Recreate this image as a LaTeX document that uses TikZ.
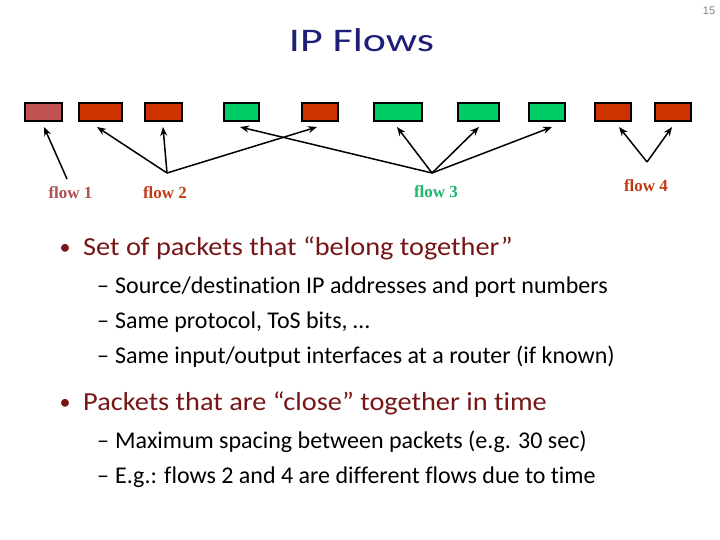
\documentclass[tikz,border=0pt]{standalone}
\usepackage{fontspec}
\setmainfont{Carlito}[Ligatures={NoCommon}]
\newfontfamily\labelfont{Liberation Serif}
\newfontfamily\pagefont{Liberation Sans}
\usetikzlibrary{arrows.meta}
\definecolor{titleblue}{RGB}{30,30,120}
\definecolor{maroon}{RGB}{118,22,22}
\definecolor{pkt1}{RGB}{192,82,82}
\definecolor{pktred}{RGB}{204,51,0}
\definecolor{pktgreen}{RGB}{0,204,102}
\definecolor{lab1}{RGB}{176,80,80}
\definecolor{labred}{RGB}{190,60,20}
\definecolor{labgreen}{RGB}{30,180,110}
\begin{document}
\begin{tikzpicture}[x=1bp,y=-1bp,
  pkt/.style={draw=black,line width=1.6bp,minimum height=17.5bp,inner sep=0pt,anchor=north west},
  arr/.style={draw=black,line width=1.5bp,-{Stealth[length=9bp,width=7bp]}},
  flowlab/.style={inner sep=0pt,anchor=base,font=\labelfont\bfseries\fontsize{17bp}{20bp}\selectfont},
  mainline/.style={inner sep=0pt,anchor=base west,text=maroon,font=\fontsize{26bp}{30bp}\selectfont},
  subline/.style={inner sep=0pt,anchor=base west,text=black,font=\fontsize{24bp}{28bp}\selectfont},
  bulletdot/.style={inner sep=0pt,anchor=base,text=maroon,font=\fontsize{22bp}{30bp}\selectfont},
  subdash/.style={inner sep=0pt,anchor=base,text=black,font=\fontsize{24bp}{28bp}\selectfont}]
\useasboundingbox (0,0) rectangle (720,540);
\node[inner sep=0pt,anchor=base,text=gray,font=\pagefont\fontsize{11bp}{13bp}\selectfont] (pg) at (709,15) {15};
\node[inner sep=0pt,anchor=base,text=titleblue,font=\fontsize{33bp}{40bp}\selectfont] (title) at (361.5,52) {\scalebox{1.33}[1]{IP Flows}};
% packets
\node[pkt,fill=pkt1,minimum width=37bp] (b1) at (24,102.5) {};
\node[pkt,fill=pktred,minimum width=43bp] (b2) at (78,102.5) {};
\node[pkt,fill=pktred,minimum width=37bp] (b3) at (144,102.5) {};
\node[pkt,fill=pktgreen,minimum width=35bp] (b4) at (223,102.5) {};
\node[pkt,fill=pktred,minimum width=36bp] (b5) at (301,102.5) {};
\node[pkt,fill=pktgreen,minimum width=48bp] (b6) at (373,102.5) {};
\node[pkt,fill=pktgreen,minimum width=41bp] (b7) at (457,102.5) {};
\node[pkt,fill=pktgreen,minimum width=36bp] (b8) at (528,102.5) {};
\node[pkt,fill=pktred,minimum width=36bp] (b9) at (594,102.5) {};
\node[pkt,fill=pktred,minimum width=36bp] (b10) at (654,102.5) {};
% arrow tips
\coordinate (t1) at (44,127);
\coordinate (t2) at (97,127);
\coordinate (t3) at (163,127);
\coordinate (t4) at (240,127);
\coordinate (t5) at (317,127);
\coordinate (t6) at (397,127);
\coordinate (t7) at (479,127);
\coordinate (t8) at (552,127);
\coordinate (t9) at (619,127);
\coordinate (t10) at (672,127);
% origins
\coordinate (o1) at (67,179);
\coordinate (o2) at (167,173);
\coordinate (o3) at (432,173);
\coordinate (o4) at (647,162);
\draw[arr] (o1) -- (t1);
\draw[arr] (o2) -- (t2);
\draw[arr] (o2) -- (t3);
\draw[arr] (o2) -- (t5);
\draw[arr] (o3) -- (t4);
\draw[arr] (o3) -- (t6);
\draw[arr] (o3) -- (t7);
\draw[arr] (o3) -- (t8);
\draw[arr] (o4) -- (t9);
\draw[arr] (o4) -- (t10);
% labels
\node[flowlab,text=lab1] (l1) at (70.5,199) {flow 1};
\node[flowlab,text=labred] (l2) at (165,199) {flow 2};
\node[flowlab,text=labgreen] (l3) at (436,198) {flow 3};
\node[flowlab,text=labred] (l4) at (646,192) {flow 4};
% bullets
\node[bulletdot] (d1) at (65,255) {•};
\node[mainline] (m1) at (83,256) {\scalebox{1.09}[1]{Set of packets that “belong together”}};
\node[subdash] (e1) at (103,293) {–};
\node[subline] (s1) at (115,293) {Source/destination IP addresses and port numbers};
\node[subdash] (e2) at (103,328) {–};
\node[subline] (s2) at (115,328) {Same protocol, ToS bits, …};
\node[subdash] (e3) at (103,363) {–};
\node[subline] (s3) at (115,363) {Same input/output interfaces at a router (if known)};
\node[bulletdot] (d2) at (65,409) {•};
\node[mainline] (m2) at (83,410) {\scalebox{1.09}[1]{Packets that are “close” together in time}};
\node[subdash] (e4) at (103,448) {–};
\node[subline] (s4) at (115,448) {Maximum spacing between packets (e.g. 30 sec)};
\node[subdash] (e5) at (103,483) {–};
\node[subline] (s5) at (115,483) {E.g.: flows 2 and 4 are different flows due to time};
\end{tikzpicture}
\end{document}
